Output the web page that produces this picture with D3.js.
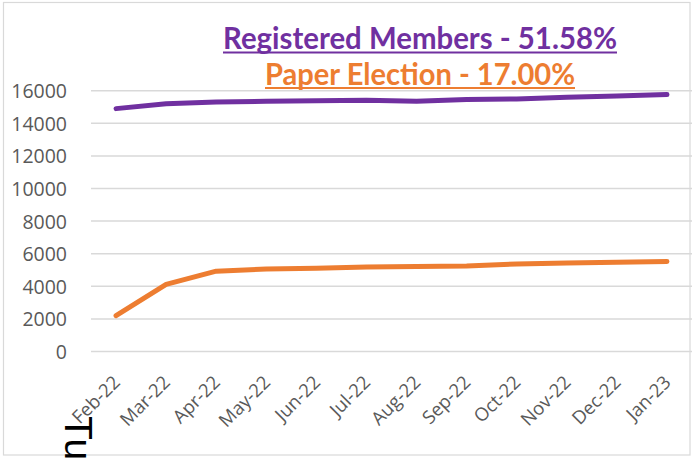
<!DOCTYPE html>
<html>
<head>
<meta charset="utf-8">
<script src="https://cdn.jsdelivr.net/npm/d3@7"></script>
<style>
  html, body { margin: 0; padding: 0; background: #fff; }
  svg { display: block; }
</style>
</head>
<body>
<script>
// Monthly counts
const months = ["Feb-22","Mar-22","Apr-22","May-22","Jun-22","Jul-22","Aug-22","Sep-22","Oct-22","Nov-22","Dec-22","Jan-23"];
const registeredMembers = [14900, 15200, 15300, 15350, 15380, 15420, 15350, 15460, 15490, 15600, 15680, 15760];
const paperElection = [2200, 4120, 4930, 5060, 5110, 5190, 5220, 5250, 5370, 5430, 5470, 5520];
const yTicks = [0, 2000, 4000, 6000, 8000, 10000, 12000, 14000, 16000];
const titleLines = [
  { text: "Registered Members - 51.58%", color: "#7030A0" },
  { text: "Paper Election - 17.00%", color: "#ED7D31" }
];

const W = 692, H = 458;
const plot = { left: 91, right: 692, top: 90.7, bottom: 351.5 };
const axisFont = "'Open Sans', 'Noto Sans', sans-serif";

const svg = d3.select("body").append("svg")
  .attr("width", W).attr("height", H);

// outer frame
svg.append("rect")
  .attr("x", 3.5).attr("y", 2.5)
  .attr("width", 686.5).attr("height", 452.5)
  .attr("fill", "none").attr("stroke", "#d9d9d9").attr("stroke-width", 1.2);

const x = d3.scalePoint().domain(months).range([plot.left, plot.right]).padding(0.5);
const y = d3.scaleLinear().domain([0, 16000]).range([plot.bottom, plot.top]);

// horizontal gridlines
svg.append("g")
  .selectAll("line").data(yTicks).join("line")
  .attr("x1", plot.left).attr("x2", plot.right)
  .attr("y1", d => y(d)).attr("y2", d => y(d))
  .attr("stroke", "#d9d9d9").attr("stroke-width", 1.5);

// y axis labels
const yAxis = d3.axisLeft(y).tickValues(yTicks).tickSize(0).tickPadding(0).tickFormat(d3.format("d"));
svg.append("g")
  .attr("transform", "translate(67,0)")
  .call(yAxis)
  .call(g => g.select(".domain").remove())
  .selectAll("text")
  .attr("fill", "#595959")
  .attr("font-family", axisFont)
  .attr("font-size", 19.5)
  .attr("dy", "0.36em");

// x axis labels, rotated
const xAxis = d3.axisBottom(x).tickSize(0).tickPadding(0);
svg.append("g")
  .attr("transform", "translate(0,379)")
  .call(xAxis)
  .call(g => g.select(".domain").remove())
  .selectAll("text")
  .attr("fill", "#595959")
  .attr("font-family", axisFont)
  .attr("font-size", 18.5)
  .attr("text-anchor", "end")
  .attr("dy", "0.35em")
  .attr("transform", "rotate(-45)");

// series lines
const line = d3.line().x((d, i) => x(months[i])).y(d => y(d));
[[registeredMembers, "#7030A0"], [paperElection, "#ED7D31"]].forEach(([vals, color]) => {
  svg.append("path")
    .datum(vals)
    .attr("d", line)
    .attr("fill", "none")
    .attr("stroke", color)
    .attr("stroke-width", 5)
    .attr("stroke-linecap", "round")
    .attr("stroke-linejoin", "round");
});

// underlined headline
const titleCfg = [
  { y: 49, len: 394 },
  { y: 84.5, len: 310 }
];
titleLines.forEach((t, i) => {
  const cx = 420;
  svg.append("text")
    .attr("x", cx).attr("y", titleCfg[i].y)
    .attr("text-anchor", "middle")
    .attr("font-family", "Lato, sans-serif")
    .attr("font-weight", "bold")
    .attr("font-size", 30)
    .attr("fill", t.color)
    .attr("textLength", titleCfg[i].len)
    .attr("lengthAdjust", "spacingAndGlyphs")
    .text(t.text);
  svg.append("line")
    .attr("x1", cx - titleCfg[i].len / 2).attr("x2", cx + titleCfg[i].len / 2)
    .attr("y1", titleCfg[i].y + 3.5).attr("y2", titleCfg[i].y + 3.5)
    .attr("stroke", t.color).attr("stroke-width", 2);
});

// stray rotated glyphs at the lower left
svg.append("text")
  .attr("transform", "translate(65,416) rotate(90)")
  .attr("font-family", "'Liberation Sans', sans-serif")
  .attr("font-size", 39)
  .attr("fill", "#000")
  .text("Tu");
</script>
</body>
</html>
